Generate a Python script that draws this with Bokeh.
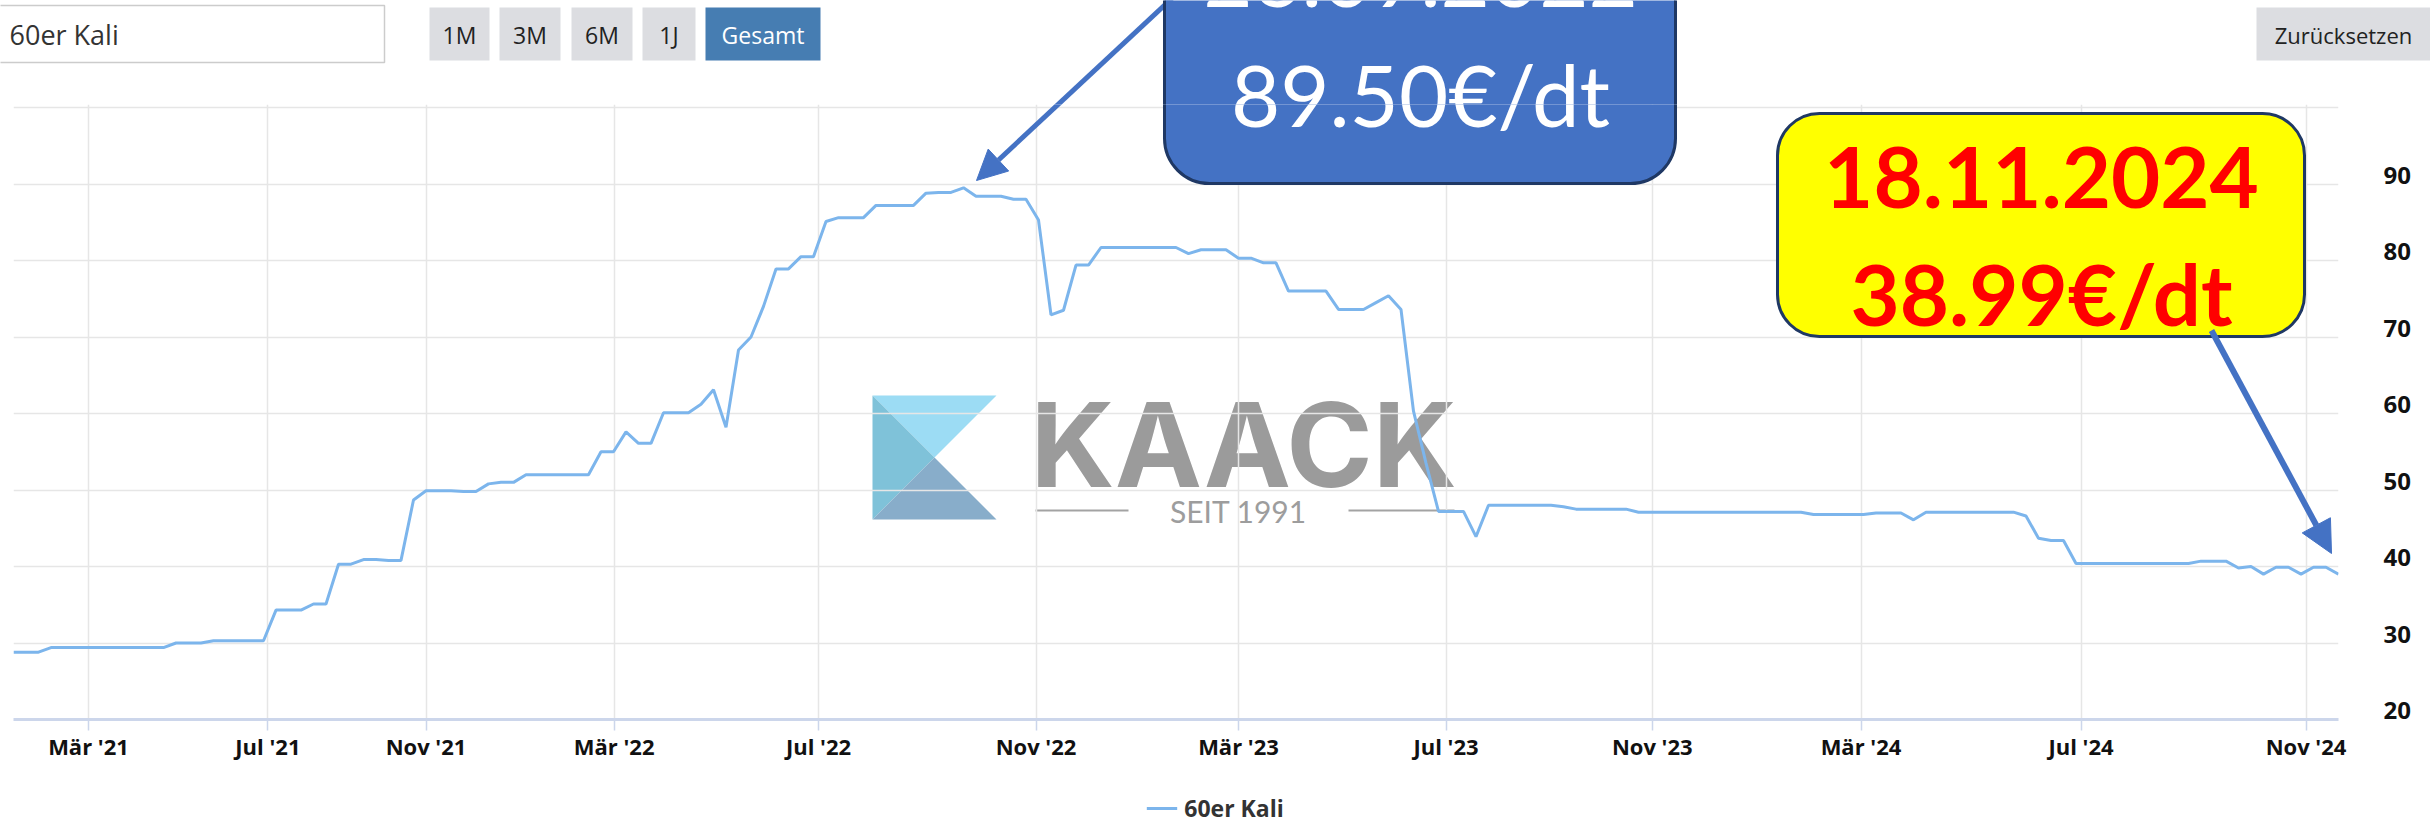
from bokeh.plotting import figure
from bokeh.layouts import column
from bokeh.models import (Range1d, FixedTicker, CustomJSTickFormatter, BoxAnnotation,
                          Label, Arrow, NormalHead, Legend, LegendItem)
from bokeh.embed import file_html
from bokeh.resources import INLINE

# ---------------- data (60er Kali, €/dt, one slot per weekly quote; ordinal axis) ----------------
prices = [
    28.8, 28.8, 28.8, 29.4, 29.4, 29.4, 29.4, 29.4, 29.4, 29.4,
    29.4, 29.4, 29.4, 30.0, 30.0, 30.0, 30.3, 30.3, 30.3, 30.3,
    30.3, 34.3, 34.3, 34.3, 35.1, 35.1, 40.3, 40.3, 40.9, 40.9,
    40.8, 40.8, 48.7, 49.9, 49.9, 49.9, 49.8, 49.8, 50.8, 51.0,
    51.0, 52.0, 52.0, 52.0, 52.0, 52.0, 52.0, 55.0, 55.0, 57.6,
    56.1, 56.1, 60.1, 60.1, 60.1, 61.2, 63.1, 58.2, 68.3, 70.0,
    74.0, 78.9, 78.9, 80.5, 80.5, 85.1, 85.6, 85.6, 85.6, 87.2,
    87.2, 87.2, 87.2, 88.8, 88.9, 88.9, 89.5, 88.4, 88.4, 88.4,
    88.0, 88.0, 85.3, 72.9, 73.5, 79.4, 79.4, 81.7, 81.7, 81.7,
    81.7, 81.7, 81.7, 81.7, 80.9, 81.4, 81.4, 81.4, 80.3, 80.3,
    79.7, 79.7, 76.0, 76.0, 76.0, 76.0, 73.6, 73.6, 73.6, 74.5,
    75.4, 73.6, 60.3, 53.5, 47.2, 47.2, 47.2, 43.9, 48.0, 48.0,
    48.0, 48.0, 48.0, 48.0, 47.8, 47.5, 47.5, 47.5, 47.5, 47.5,
    47.1, 47.1, 47.1, 47.1, 47.1, 47.1, 47.1, 47.1, 47.1, 47.1,
    47.1, 47.1, 47.1, 47.1, 46.8, 46.8, 46.8, 46.8, 46.8, 47.0,
    47.0, 47.0, 46.1, 47.1, 47.1, 47.1, 47.1, 47.1, 47.1, 47.1,
    47.1, 46.6, 43.7, 43.4, 43.4, 40.4, 40.4, 40.4, 40.4, 40.4,
    40.4, 40.4, 40.4, 40.4, 40.4, 40.7, 40.7, 40.7, 39.8, 40.0,
    39.0, 39.9, 39.9, 39.0, 39.9, 39.9, 38.99,
]
slots = list(range(len(prices)))

# month starts, expressed as position in the ordinal series
tick_labels = ["Mär '21", "Jul '21", "Nov '21", "Mär '22", "Jul '22", "Nov '22",
               "Mär '23", "Jul '23", "Nov '23", "Mär '24", "Jul '24", "Nov '24"]
tick_slots = [6.0, 20.35, 33.0, 48.05, 64.4, 81.8, 98.0, 114.6, 131.1, 147.8, 165.4, 183.4]
y_ticks = [20, 30, 40, 50, 60, 70, 80, 90, 100]

series_name = "60er Kali"
range_buttons = ["1M", "3M", "6M", "1J", "Gesamt"]
peak_date, peak_text = "26.09.2022", "89.50€/dt"
last_date, last_text = "18.11.2024", "38.99€/dt"

# ---------------- page geometry (pixels) ----------------
PW, PH = 2430, 821
TOP_H = 104            # control strip height (main plot starts here)
OVL = 2                # strips overlap by a couple of pixels to hide the seam
BOT_Y = 795            # legend strip starts here
FL, FR = 13, 2338      # plot frame left/right
FT, FB = 107, 719      # y=100 and y=20 positions
Y0, Y1 = 20, 100
N = len(prices) - 1
UNIT = (FB - FT) / (Y1 - Y0)   # px per €/dt
LABEL_LIFT = 9 / UNIT          # Highstock-style: y labels sit just above their grid line


def X(px):
    return (px - FL) / (FR - FL) * N


def Y(py):
    return Y1 - (py - FT) / UNIT


UI = "Open Sans"
BLUE = "#4472c4"
NAVY = "#1f3864"


def no_align(f):
    try:
        f.frame_align = False
    except AttributeError:
        pass
    return f


def strip(height, y_top):
    f = figure(width=PW, height=height, output_backend="svg", toolbar_location=None,
               x_range=Range1d(0, PW), y_range=Range1d(y_top + height, y_top),
               x_axis_location=None, y_axis_location=None,
               min_border=0, min_border_left=0, min_border_right=0,
               min_border_top=0, min_border_bottom=0)
    f.grid.visible = False
    f.outline_line_color = None
    f.background_fill_color = "white"
    f.border_fill_color = "white"
    return no_align(f)


# ======================= top strip: controls =======================
pt = strip(TOP_H + OVL, 0)
pt.add_layout(BoxAnnotation(left=-10, right=384, top=5, bottom=62, fill_color="white", fill_alpha=1,
                            line_color="#cccccc", line_alpha=1, line_width=1.5))
pt.add_layout(Label(x=9, y=34, text=series_name, text_baseline="middle",
                    text_font=UI, text_font_size="27px", text_color="#333333"))
pt.line(x=[313, 313], y=[22, 45], line_color="#cccccc", line_width=1.5)
pt.line(x=[338, 349, 360], y=[28, 37, 28], line_color="#c4c4c4", line_width=2)

btn_edges = [(429, 489), (499, 560), (571, 632), (642, 695), (705, 820)]
for txt, (l, r) in zip(range_buttons, btn_edges):
    active = txt == "Gesamt"
    pt.add_layout(BoxAnnotation(left=l, right=r, top=7, bottom=60,
                                fill_color="#467db2" if active else "#dcdde1", fill_alpha=1,
                                line_color=None))
    pt.add_layout(Label(x=(l + r) / 2, y=34, text=txt, text_align="center", text_baseline="middle",
                        text_font=UI, text_font_size="23px",
                        text_color="white" if active else "#222222"))
pt.add_layout(BoxAnnotation(left=2256, right=2460, top=7, bottom=60,
                            fill_color="#dcdde1", fill_alpha=1, line_color=None))
pt.add_layout(Label(x=2343, y=34, text="Zurücksetzen", text_align="center", text_baseline="middle",
                    text_font=UI, text_font_size="22px", text_color="#222222"))

# upper part of the peak call-out (continues into the main plot)
pt.add_layout(Arrow(x_start=1182, y_start=-12, x_end=976, y_end=180,
                    line_color=BLUE, line_width=5, end=None))
pt.add_layout(BoxAnnotation(left=1164, right=1675, top=-80, bottom=400,
                            fill_color=BLUE, fill_alpha=1, line_color=NAVY, line_alpha=1,
                            line_width=3, border_radius=45))
pt.add_layout(Label(x=1420, y=-24, text=peak_date, text_align="center", text_baseline="middle",
                    text_font="Lato", text_font_size="85px", text_color="white"))
pt.add_layout(Label(x=1420, y=93, text=peak_text, text_align="center", text_baseline="middle",
                    text_font="Lato", text_font_size="85px", text_color="white"))

# ======================= main chart =======================
MAIN_H = BOT_Y - TOP_H
p = figure(width=PW, height=MAIN_H, output_backend="svg", toolbar_location=None,
           x_range=Range1d(0, N), y_range=Range1d(Y0, Y(TOP_H)),
           y_axis_location="right", x_axis_location="below",
           min_border_left=FL, min_border_right=PW - FR,
           min_border_top=0, min_border_bottom=BOT_Y - FB)
no_align(p)
p.margin = (-OVL, 0, 0, 0)
p.outline_line_color = None
p.background_fill_color = "white"
p.border_fill_color = "white"

xt = FixedTicker(ticks=tick_slots)
p.xaxis.ticker = xt
p.xgrid.ticker = xt
p.xaxis.formatter = CustomJSTickFormatter(args=dict(pos=tick_slots, lab=tick_labels),
                                          code="const i = pos.indexOf(tick); return i >= 0 ? lab[i] : '';")
p.xaxis.axis_line_color = "#ccd6eb"
p.xaxis.axis_line_width = 3
p.xaxis.major_tick_line_color = "#ccd6eb"
p.xaxis.major_tick_line_width = 1.5
p.xaxis.major_tick_out = 11
p.xaxis.major_tick_in = 0
p.xaxis.minor_tick_line_color = None
p.xaxis.major_label_standoff = 0
p.xaxis.major_label_text_font = UI
p.xaxis.major_label_text_font_style = "bold"
p.xaxis.major_label_text_font_size = "22px"
p.xaxis.major_label_text_color = "#111111"
p.xgrid.grid_line_color = "#e6e6e6"
p.xgrid.grid_line_width = 1.5

yt = FixedTicker(ticks=y_ticks)
p.ygrid.ticker = yt
p.ygrid.grid_line_color = "#e6e6e6"
p.ygrid.grid_line_width = 1.5
# value labels: same scale, lifted a few pixels above their grid lines
p.extra_y_ranges = {"labels": Range1d(Y0 - LABEL_LIFT, Y(TOP_H) - LABEL_LIFT)}
ya = p.yaxis[0]
ya.y_range_name = "labels"
ya.ticker = FixedTicker(ticks=y_ticks)
ya.major_label_overrides = {100: ""}
ya.axis_line_color = None
ya.major_tick_line_color = None
ya.minor_tick_line_color = None
ya.major_tick_out = 0
ya.major_tick_in = 0
ya.major_label_standoff = 45
ya.major_label_text_font = UI
ya.major_label_text_font_style = "bold"
ya.major_label_text_font_size = "24px"
ya.major_label_text_color = "#111111"

# watermark (behind the grid)
L_, R_, T_, B_ = 872, 996, 395, 519
CX, CY = (L_ + R_) / 2, (T_ + B_) / 2
p.patches(xs=[[X(L_), X(R_), X(CX)], [X(L_), X(CX), X(L_)], [X(L_), X(CX), X(R_)]],
          ys=[[Y(T_), Y(T_), Y(CY)], [Y(T_), Y(CY), Y(B_)], [Y(B_), Y(CY), Y(B_)]],
          fill_color=["#9cdcf4", "#7fc2d9", "#88adca"], line_color=None, level="image")
p.add_layout(Label(x=X(1030), y=Y(444), text="KAACK", text_align="left", text_baseline="middle",
                   text_font="Inter", text_font_style="bold", text_font_size="117px",
                   text_color="#9b9b9b", level="image"))
p.add_layout(Label(x=X(1238), y=Y(510), text="SEIT 1991", text_align="center", text_baseline="middle",
                   text_font="Lato", text_font_size="30px", text_color="#9d9d9d", level="image"))
p.segment(x0=[X(1035), X(1348)], y0=[Y(510), Y(510)], x1=[X(1128), X(1454)], y1=[Y(510), Y(510)],
          line_color="#a3a3a3", line_width=2, level="image")

# series
p.line(x=slots, y=prices, line_color="#7cb5ec", line_width=3)

# lower part of the peak call-out
p.add_layout(Arrow(x_start=X(1182), y_start=Y(-12), x_end=X(976), y_end=Y(180),
                   line_color=BLUE, line_width=5,
                   end=NormalHead(size=30, fill_color=BLUE, line_color=BLUE)))
p.add_layout(BoxAnnotation(left=X(1164), right=X(1675), top=Y(-80), bottom=Y(183),
                           fill_color=BLUE, fill_alpha=1, line_color=NAVY, line_alpha=1,
                           line_width=3, border_radius=45))
p.add_layout(Label(x=X(1420), y=Y(93), text=peak_text, text_align="center", text_baseline="middle",
                   text_font="Lato", text_font_size="85px", text_color="white"))

# last-value call-out
p.add_layout(BoxAnnotation(left=X(1777), right=X(2304), top=Y(113), bottom=Y(336),
                           fill_color="#ffff00", fill_alpha=1, line_color=NAVY, line_alpha=1,
                           line_width=3, border_radius=42))
p.add_layout(Label(x=X(2041), y=Y(177), text=last_date, text_align="center", text_baseline="middle",
                   text_font="Lato", text_font_style="bold", text_font_size="85px", text_color="#ff0000"))
p.add_layout(Label(x=X(2041), y=Y(292), text=last_text, text_align="center", text_baseline="middle",
                   text_font="Lato", text_font_style="bold", text_font_size="85px", text_color="#ff0000"))
p.add_layout(Arrow(x_start=X(2211), y_start=Y(330), x_end=X(2331), y_end=Y(553),
                   line_color=BLUE, line_width=6,
                   end=NormalHead(size=32, fill_color=BLUE, line_color=BLUE)))

# ======================= legend strip =======================
pb = strip(PH - BOT_Y, BOT_Y)
# same series, out of this strip's view; it only supplies the legend swatch
proxy = pb.line(x=slots, y=prices, line_color="#7cb5ec", line_width=3)
pb.add_layout(Legend(items=[LegendItem(label=series_name, renderers=[proxy])],
                     location="center", orientation="horizontal",
                     label_text_font=UI, label_text_font_style="bold",
                     label_text_font_size="23px", label_text_color="#333333",
                     glyph_width=31, glyph_height=20, label_standoff=7,
                     padding=0, margin=0, border_line_color=None, background_fill_alpha=0))

layout = column(pt, p, pb, spacing=0)
open("out.html", "w").write(file_html(layout, INLINE))
